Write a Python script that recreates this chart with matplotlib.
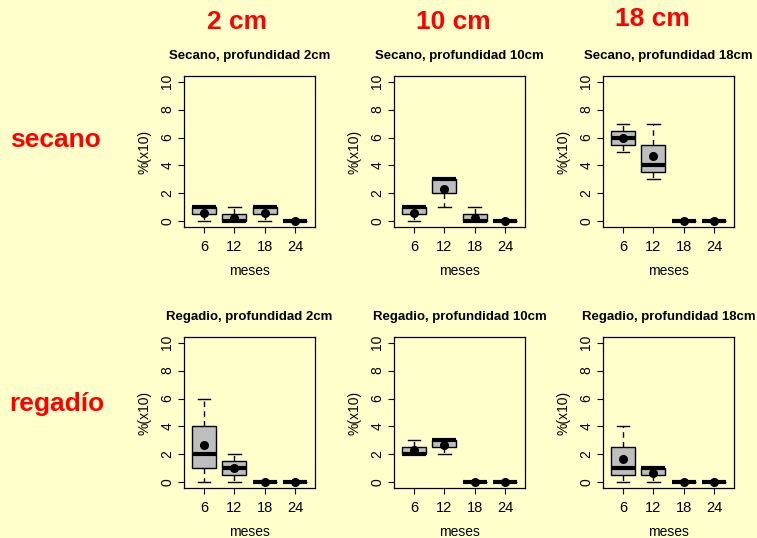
import matplotlib
matplotlib.use("Agg")
import matplotlib.pyplot as plt

plt.rcParams["font.family"] = ["Liberation Sans", "DejaVu Sans"]

BG = "#FFFFCC"
BOX_FILL = "#BEBEBE"

MESES = ["6", "12", "18", "24"]
DEPTHS = ["2 cm", "10 cm", "18 cm"]
ROW_LABELS = ["secano", "regadío"]
TITLES = [
    ["Secano, profundidad 2cm", "Secano, profundidad 10cm", "Secano, profundidad 18cm"],
    ["Regadio, profundidad 2cm", "Regadio, profundidad 10cm", "Regadio, profundidad 18cm"],
]

# box stats per month: (whislo, q1, med, q3, whishi, mean)
secano_2 = [(0, 0.5, 1, 1, 1, 0.6), (0, 0, 0, 0.5, 1, 0.25),
            (0, 0.5, 1, 1, 1, 0.6), (0, 0, 0, 0, 0, 0)]
secano_10 = [(0, 0.5, 1, 1, 1, 0.6), (1, 2, 3, 3, 3, 2.33),
             (0, 0, 0, 0.5, 1, 0.25), (0, 0, 0, 0, 0, 0)]
secano_18 = [(5, 5.5, 6, 6.5, 7, 6.0), (3, 3.5, 4, 5.5, 7, 4.67),
             (0, 0, 0, 0, 0, 0), (0, 0, 0, 0, 0, 0)]
regadio_2 = [(0, 1, 2, 4, 6, 2.67), (0, 0.5, 1, 1.5, 2, 1.0),
             (0, 0, 0, 0, 0, 0), (0, 0, 0, 0, 0, 0)]
regadio_10 = [(2, 2, 2, 2.5, 3, 2.33), (2, 2.5, 3, 3, 3, 2.67),
              (0, 0, 0, 0, 0, 0), (0, 0, 0, 0, 0, 0)]
regadio_18 = [(0, 0.5, 1, 2.5, 4, 1.67), (0, 0.5, 1, 1, 1, 0.67),
              (0, 0, 0, 0, 0, 0), (0, 0, 0, 0, 0, 0)]

DATA = [[secano_2, secano_10, secano_18], [regadio_2, regadio_10, regadio_18]]

W, H = 757, 538
fig = plt.figure(figsize=(W / 100, H / 100), dpi=100, facecolor=BG)

# axes boxes in pixels (left, right) / (top, bottom)
COL_X = [(184, 315), (394, 525), (603, 734)]
ROW_Y = [(76, 227), (337, 488)]


def px(x, y):
    return x / W, 1 - y / H


for r in range(2):
    for c in range(3):
        x0, x1 = COL_X[c]
        y0, y1 = ROW_Y[r]
        ax = fig.add_axes([x0 / W, 1 - y1 / H, (x1 - x0) / W, (y1 - y0) / H])
        ax.set_facecolor(BG)
        stats = []
        for (lo, q1, med, q3, hi, mean) in DATA[r][c]:
            stats.append(dict(whislo=lo, q1=q1, med=med, q3=q3, whishi=hi,
                              mean=mean, fliers=[]))
        ax.bxp(stats, positions=[1, 2, 3, 4], widths=0.8, patch_artist=True,
               showmeans=True, showfliers=False,
               boxprops=dict(facecolor=BOX_FILL, edgecolor="black", linewidth=1),
               medianprops=dict(color="black", linewidth=3, solid_capstyle="butt"),
               whiskerprops=dict(color="black", linewidth=1, linestyle=(0, (4, 3))),
               capprops=dict(color="black", linewidth=1.01),
               meanprops=dict(marker="o", markerfacecolor="black",
                              markeredgecolor="black", markersize=5.5))
        ax.set_xlim(0.34, 4.66)
        ax.set_ylim(-0.4, 10.4)
        ax.set_xticks([1, 2, 3, 4])
        ax.set_xticklabels(MESES, fontsize=10.5)
        ax.set_yticks([0, 2, 4, 6, 8, 10])
        ax.set_yticklabels(["0", "2", "4", "6", "8", "10"], fontsize=10,
                           rotation=90, va="center")
        ax.tick_params(direction="out", length=4, width=0.8)
        ax.tick_params(axis="x", pad=5)
        ax.tick_params(axis="y", pad=3)
        for s in ax.spines.values():
            s.set_linewidth(0.9)
        ax.set_xlabel("meses", fontsize=10, labelpad=7.5)
        ax.set_ylabel("%(x10)", fontsize=10, labelpad=6)
        ax.set_title(TITLES[r][c], fontsize=9.5, fontweight="bold", pad=12)

        # caps: R staplewex 0.5 -> cap half the box width
        for ln in ax.lines:
            if ln.get_linewidth() == 1.01:
                xd = ln.get_xdata()
                m = (xd[0] + xd[1]) / 2
                ln.set_xdata([m - 0.21, m + 0.21])

for c, label in enumerate(DEPTHS):
    x, y = px([237, 453, 652][c], [22, 22, 19][c])
    fig.text(x, y, label, color="red", fontsize=19, fontweight="bold",
             ha="center", va="center")

for r, label in enumerate(ROW_LABELS):
    x, y = px([55, 57][r], [140, 404][r])
    fig.text(x, y, label, color="red", fontsize=19, fontweight="bold",
             ha="center", va="center")

fig.savefig("out.png", dpi=100, facecolor=BG)
